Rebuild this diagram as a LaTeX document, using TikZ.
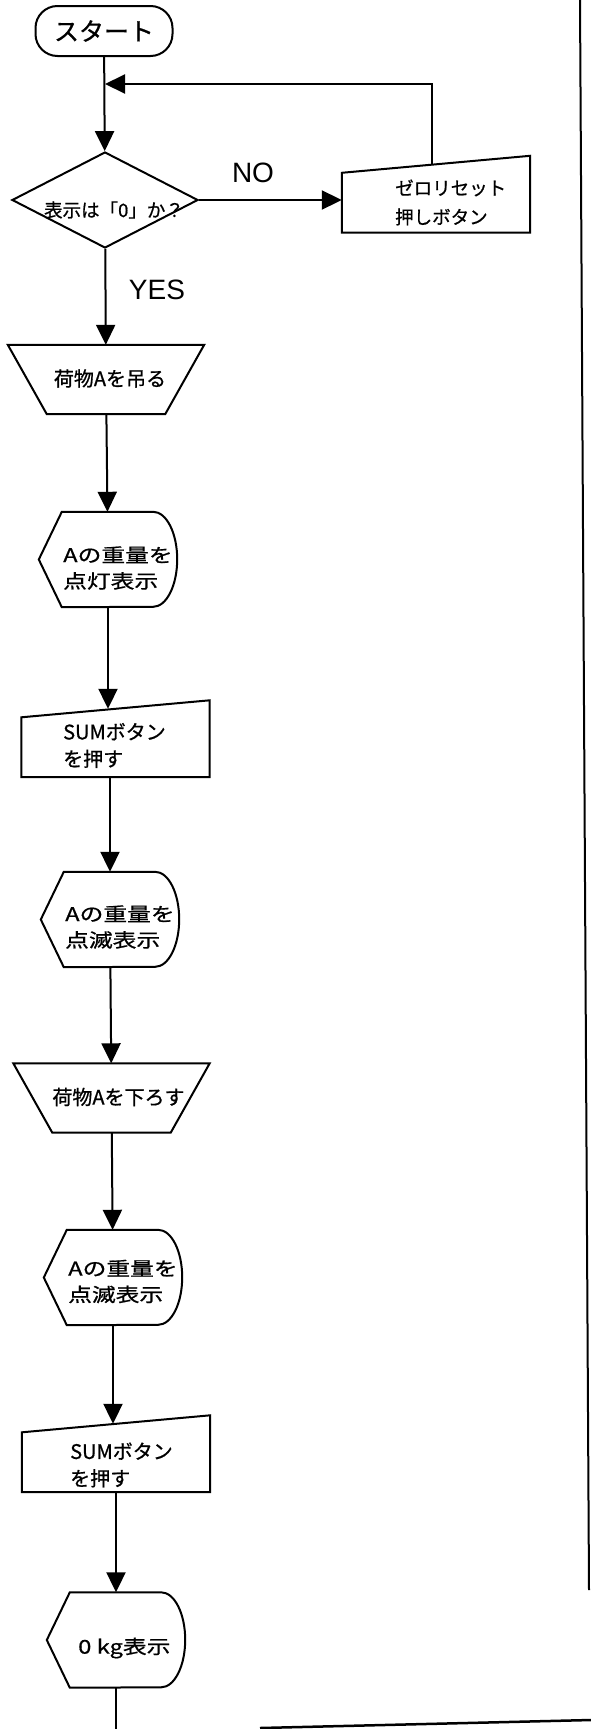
\documentclass[tikz,border=0pt]{standalone}
\usepackage{fontspec}
\usetikzlibrary{shapes.geometric,arrows.meta,calc}
\newfontfamily\jpfont[FakeBold=0.8]{Noto Sans CJK JP}
\newfontfamily\jpwide[FakeStretch=1.25,FakeBold=0.8]{Noto Sans CJK JP}
\newfontfamily\latfont{Liberation Sans}

\tikzset{
  conn/.style={line width=2pt},
  flow/.style={conn,-{Triangle[length=20pt,width=19pt]}},
  startbox/.style={conn,draw,rectangle,rounded corners=22pt,minimum width=137pt,minimum height=50pt,inner sep=0pt,font=\jpfont\fontsize{25pt}{25pt}\selectfont},
  checkbox/.style={conn,draw,diamond,minimum width=186pt,minimum height=96pt,inner sep=0pt},
  handbox/.style={rectangle,minimum width=196pt,minimum height=69pt,inner sep=0pt},
  inputbox/.style={rectangle,minimum width=188pt,minimum height=68pt,inner sep=0pt},
  showbox/.style={rectangle,minimum width=138pt,minimum height=95pt,inner sep=0pt},
  jptext/.style={inner sep=0pt,align=left,font=\jpfont\fontsize{18.5pt}{29pt}\selectfont},
  handtext/.style={inner sep=0pt,font=\jpfont\fontsize{20pt}{20pt}\selectfont},
  pushtext/.style={inner sep=0pt,align=left,anchor=west,font=\jpfont\fontsize{20pt}{27pt}\selectfont},
  showtext/.style={inner sep=0pt,align=left,anchor=west,font=\jpwide\fontsize{19pt}{26pt}\selectfont},
  yesno/.style={inner sep=0pt,font=\latfont\fontsize{28pt}{28pt}\selectfont}
}

\begin{document}
\begin{tikzpicture}[x=1pt,y=-1pt]
  \useasboundingbox (0,0) rectangle (591,1729);

  % frame of the sheet
  \draw[line width=2pt] (580,0) -- (589,1590);
  \draw[line width=2.5pt] (260,1728) -- (591,1720);

  \node[startbox] (start) at (104,31) {スタート};
  \coordinate (join) at (105,84);
  \node[checkbox] (check) at (105,200) {};
  \node[inputbox] (reset) at (436,198.5) {};
  \node[handbox] (hang) at (106,379.5) {};
  \node[showbox] (show1) at (108,559.5) {};
  \node[inputbox] (push1) at (115.5,743) {};
  \node[showbox] (show2) at (110,919.5) {};
  \node[handbox] (unhang) at (111.5,1098) {};
  \node[showbox] (show3) at (113,1277.5) {};
  \node[inputbox] (push2) at (116,1458) {};
  \node[showbox] (show4) at (116,1640) {};
  \coordinate (tail) at (116,1729);

  % outlines
  \foreach \n in {reset,push1,push2}
    \draw[conn] ($(\n.north west)+(0,8.5)$) -- ($(\n.north east)+(0,-8.5)$) -- (\n.south east) -- (\n.south west) -- cycle;
  \foreach \n in {hang,unhang}
    \draw[conn] (\n.north west) -- (\n.north east) -- ($(\n.south east)+(-39,0)$) -- ($(\n.south west)+(39,0)$) -- cycle;
  \foreach \n in {show1,show2,show3,show4}
    \draw[conn] (\n.west) -- ($(\n.north west)+(23,0)$) -- ($(\n.north east)+(-24,0)$)
      arc[start angle=90,end angle=-90,x radius=24pt,y radius=47.5pt] -- ($(\n.south west)+(23,0)$) -- cycle;

  % texts
  \node[jptext] (check-t) at (114,210) {表示は「0」か？};
  \node[jptext,anchor=west] (reset-t) at (395,202.5) {ゼロリセット\\押しボタン};
  \node[handtext] (hang-t) at (110,378.5) {荷物Aを吊る};
  \node[showtext] (show1-t) at (63,568) {Aの重量を\\点灯表示};
  \node[pushtext] (push1-t) at (63,745.5) {SUMボタン\\を押す};
  \node[showtext] (show2-t) at (65,927) {Aの重量を\\点滅表示};
  \node[handtext] (unhang-t) at (118.5,1097) {荷物Aを下ろす};
  \node[showtext] (show3-t) at (68,1281.5) {Aの重量を\\点滅表示};
  \node[pushtext] (push2-t) at (70,1465) {SUMボタン\\を押す};
  \node[showtext] (show4-t) at (78,1648) {0 kg表示};
  \node[yesno] (no) at (253,173) {NO};
  \node[yesno] (yes) at (157,290) {YES};

  % connectors
  \draw[flow] (start) -- (check);
  \draw[flow] (check) -- (check -| reset.west);
  \draw[flow] ([xshift=-4pt]reset.north) |- (join);
  \draw[flow] (check) -- (hang);
  \draw[flow] (hang) -- (show1);
  \draw[flow] (show1) -- (show1 |- push1.north);
  \draw[flow] (push1.south -| show2) -- (show2);
  \draw[flow] (show2) -- (unhang);
  \draw[flow] (unhang) -- (show3);
  \draw[flow] (show3) -- (show3 |- push2.north);
  \draw[flow] (push2.south -| show4) -- (show4);
  \draw[conn] (show4) -- (tail);
\end{tikzpicture}
\end{document}
